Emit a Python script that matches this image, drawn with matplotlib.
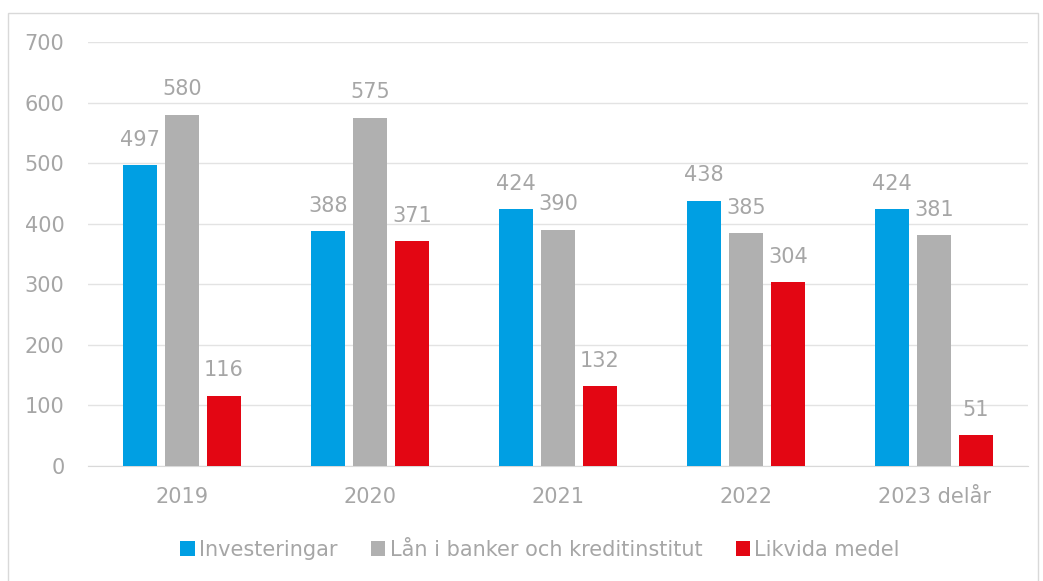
import numpy as np
import matplotlib.pyplot as plt
from matplotlib.patches import Rectangle

categories = ['2019', '2020', '2021', '2022', '2023 delår']
investeringar = [497, 388, 424, 438, 424]
lan = [580, 575, 390, 385, 381]
likvida = [116, 371, 132, 304, 51]
series_names = ['Investeringar', 'Lån i banker och kreditinstitut', 'Likvida medel']
colors = ['#009FE3', '#B0B0B0', '#E30613']
text_color = '#A6A6A6'

plt.rcParams['font.family'] = ['DejaVu Sans']

fig = plt.figure(figsize=(10.43, 5.81), dpi=100)
ax = fig.add_axes([88 / 1043, 1 - 466 / 581, 940 / 1043, 424 / 581])

# chart border like the office frame
fig.patches.append(Rectangle((8 / 1043, -0.01), 1030 / 1043, 1 - 13 / 581 + 0.01,
                             transform=fig.transFigure, fill=False,
                             edgecolor='#D9D9D9', linewidth=1))

x = np.arange(len(categories))
width = 0.181
step = 0.223
for i, (vals, name, c) in enumerate(zip([investeringar, lan, likvida], series_names, colors)):
    pos = x + (i - 1) * step
    bars = ax.bar(pos, vals, width, color=c, label=name, zorder=3)
    for b, v in zip(bars, vals):
        ax.annotate(str(v), (b.get_x() + b.get_width() / 2, v), xytext=(0, 11),
                    textcoords='offset points', ha='center', va='bottom',
                    fontsize=15, color=text_color)

ax.set_xlim(-0.5, len(categories) - 0.5)
ax.set_ylim(0, 700)
ax.set_yticks(range(0, 701, 100))
ax.set_xticks(x)
ax.set_xticklabels(categories)
ax.tick_params(axis='both', length=0, labelsize=15, labelcolor=text_color)
ax.tick_params(axis='y', pad=17)
ax.tick_params(axis='x', pad=15)
ax.grid(axis='y', color='#E3E3E3', linewidth=1, zorder=0)
for s in ['top', 'right', 'left']:
    ax.spines[s].set_visible(False)
ax.spines['bottom'].set_color('#D9D9D9')

leg = fig.legend(loc='center', bbox_to_anchor=(540 / 1043, 1 - 550 / 581), ncol=3,
                 frameon=False, fontsize=15, handlelength=0.7, handleheight=0.7,
                 handletextpad=0.2, columnspacing=1.6)
for t in leg.get_texts():
    t.set_color(text_color)

plt.savefig('out.png', dpi=100)
